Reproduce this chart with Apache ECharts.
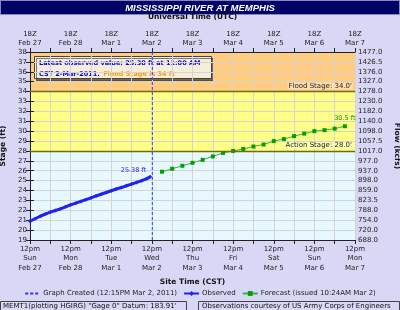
<!DOCTYPE html>
<html>
<head>
<meta charset="utf-8">
<script src="https://cdn.jsdelivr.net/npm/echarts@6/dist/echarts.min.js"></script>
<style>
  html, body { margin: 0; padding: 0; background: #D8D8F6; }
  #chart { width: 400px; height: 310px; }
</style>
</head>
<body>
<div id="chart"></div>
<script>
// x values are hours since 12pm CST Sun Feb 27 2011
const obsHours = [0, 3, 6, 9, 12, 15, 18, 21, 24, 27, 30, 33, 36, 39, 42, 45, 48, 51, 54, 57, 60, 63, 66, 69, 71];
const obsStage = [20.90, 21.15, 21.40, 21.62, 21.82, 21.98, 22.15, 22.35, 22.55, 22.72, 22.90, 23.08, 23.25,
                  23.45, 23.62, 23.80, 23.98, 24.15, 24.30, 24.48, 24.65, 24.82, 25.00, 25.20, 25.38];
const fcstHours = [78, 84, 90, 96, 102, 108, 114, 120, 126, 132, 138, 144, 150, 156, 162, 168, 174, 180, 186];
const fcstStage = [25.9, 26.2, 26.5, 26.8, 27.1, 27.45, 27.8, 28.0, 28.2, 28.45, 28.65, 29.0, 29.2,
                   29.5, 29.75, 30.0, 30.1, 30.25, 30.5];
const dayNames = ['Sun', 'Mon', 'Tue', 'Wed', 'Thu', 'Fri', 'Sat', 'Sun', 'Mon'];
const dayDates = ['Feb 27', 'Feb 28', 'Mar 1', 'Mar 2', 'Mar 3', 'Mar 4', 'Mar 5', 'Mar 6', 'Mar 7'];
// flow (kcfs) for each stage foot from 19 to 38
const flowLabels = ['688.0', '720.0', '754.0', '788.0', '823.5', '859.0', '898.0', '937.0', '977.0', '1017.0',
                    '1057.5', '1098.0', '1140.0', '1182.0', '1230.0', '1278.0', '1327.0', '1376.0', '1426.5', '1477.0'];
const stageMin = 19, stageMax = 38;
const actionStage = 28, floodStage = 34;
const createdHour = 72.25;

const font = 'DejaVu Sans';
const chart = echarts.init(document.getElementById('chart'));

const obsData = obsHours.map((h, i) => [h, obsStage[i]]);
obsData[obsData.length - 1] = {
  value: obsData[obsData.length - 1],
  label: { show: true, position: 'left', offset: [3, -7], formatter: obsStage[obsStage.length - 1] + ' ft',
           color: '#2222EE', fontSize: 6.5, fontFamily: font }
};
const fcstData = fcstHours.map((h, i) => [h, fcstStage[i]]);
fcstData[fcstData.length - 1] = {
  value: fcstData[fcstData.length - 1],
  label: { show: true, position: 'top', distance: 2, formatter: fcstStage[fcstStage.length - 1] + ' ft',
           color: '#009900', fontSize: 6.5, fontFamily: font }
};

const xCommon = {
  type: 'value', min: 0, max: 192, interval: 12,
  axisLine: { lineStyle: { color: '#222' } },
  axisTick: { length: 4, lineStyle: { color: '#222' } },
  axisLabel: { fontSize: 7, fontFamily: font, color: '#222', lineHeight: 9.5, margin: 4 },
  nameLocation: 'middle',
  nameTextStyle: { fontSize: 7.5, fontWeight: 'bold', fontFamily: font, color: '#111' }
};
const yCommon = {
  type: 'value', min: stageMin, max: stageMax, interval: 1,
  axisLine: { show: true, lineStyle: { color: '#222' } },
  axisTick: { show: true, length: 4, lineStyle: { color: '#222' } },
  axisLabel: { fontSize: 7, fontFamily: font, color: '#222', margin: 3 },
  nameLocation: 'middle',
  nameTextStyle: { fontSize: 7.5, fontWeight: 'bold', fontFamily: font, color: '#111' }
};

chart.setOption({
  animation: false,
  backgroundColor: '#D8D8F6',
  grid: { left: 30, right: 45, top: 52, bottom: 70, outerBoundsMode: 'none' },
  xAxis: [
    Object.assign({}, xCommon, {
      position: 'bottom', name: 'Site Time (CST)', nameGap: 38,
      splitLine: { show: true, lineStyle: { color: '#D4D4D4' } },
      axisLabel: Object.assign({}, xCommon.axisLabel, {
        formatter: v => v % 24 ? '' : '12pm\n' + dayNames[v / 24] + '\n' + dayDates[v / 24]
      })
    }),
    Object.assign({}, xCommon, {
      position: 'top', name: 'Universal Time (UTC)', nameGap: 31,
      splitLine: { show: false },
      axisLabel: Object.assign({}, xCommon.axisLabel, {
        formatter: v => v % 24 ? '' : '18Z\n' + dayDates[v / 24]
      })
    })
  ],
  yAxis: [
    Object.assign({}, yCommon, {
      position: 'left', name: 'Stage (ft)', nameGap: 19,
      splitLine: { show: true, lineStyle: { color: '#D4D4D4' } }
    }),
    Object.assign({}, yCommon, {
      position: 'right', name: 'Flow (kcfs)', nameGap: 37, nameRotate: -90,
      splitLine: { show: false },
      axisLabel: Object.assign({}, yCommon.axisLabel, { formatter: v => flowLabels[v - stageMin] })
    })
  ],
  legend: {
    top: 285, left: 'center', itemWidth: 15, itemHeight: 6, itemGap: 6,
    textStyle: { fontSize: 7, fontFamily: font, color: '#222', padding: [0, 0, 0, -2] },
    data: [
      { name: 'Graph Created (12:15PM Mar 2, 2011)', itemStyle: { opacity: 0 } },
      'Observed',
      'Forecast (issued 10:24AM Mar 2)'
    ]
  },
  series: [
    {
      name: 'bands', type: 'line', data: [], silent: true,
      markArea: {
        z: -1, silent: true,
        data: [
          [{ yAxis: stageMin, itemStyle: { color: '#E8F8FF' } }, { yAxis: actionStage }],
          [{ yAxis: actionStage, itemStyle: { color: '#FFFF88' } }, { yAxis: floodStage }],
          [{ yAxis: floodStage, itemStyle: { color: '#FFCC80' } }, { yAxis: stageMax }]
        ]
      },
      markLine: {
        silent: true, symbol: 'none',
        lineStyle: { color: '#6E6E10', width: 1.3, type: 'solid' },
        label: { position: 'insideEndTop', fontSize: 7, fontFamily: font, color: '#222', distance: 2,
                 backgroundColor: 'rgba(255,255,255,0.35)', padding: [0, 1] },
        data: [
          { yAxis: floodStage, label: { formatter: "Flood Stage: 34.0'" } },
          { yAxis: actionStage, label: { formatter: "Action Stage: 28.0'" } }
        ]
      }
    },
    {
      name: 'Graph Created (12:15PM Mar 2, 2011)', type: 'line', symbol: 'none',
      data: [[createdHour, stageMin], [createdHour, stageMax]],
      lineStyle: { color: '#3333FF', width: 1, type: [3, 2] }, itemStyle: { color: '#3333FF' }
    },
    {
      name: 'Observed', type: 'line', data: obsData,
      symbol: 'diamond', symbolSize: 4,
      lineStyle: { color: '#2222EE', width: 3 }, itemStyle: { color: '#2222EE' }
    },
    {
      name: 'Forecast (issued 10:24AM Mar 2)', type: 'line', data: fcstData,
      symbol: 'rect', symbolSize: 4,
      lineStyle: { color: '#44AA44', width: 1 }, itemStyle: { color: '#00A000' }
    }
  ],
  graphic: [
    { type: 'rect', shape: { x: 0.5, y: 0.5, width: 399, height: 14 },
      style: { fill: '#000066', stroke: '#8888BB', lineWidth: 1 } },
    { type: 'text', x: 200, y: 8,
      style: { text: 'MISSISSIPPI RIVER AT MEMPHIS', fill: '#fff', align: 'center', verticalAlign: 'middle',
               font: 'italic bold 9.5px "Liberation Sans Narrow", "Liberation Sans", sans-serif' } },
    { type: 'rect', shape: { x: 34.5, y: 56.5, width: 177, height: 22 },
      style: { fill: '#F6EEDA', stroke: '#444', lineWidth: 1, shadowColor: 'rgba(0,0,0,0.5)', shadowOffsetX: 2, shadowOffsetY: 2 } },
    { type: 'text', x: 39, y: 59,
      style: {
        text: '{b|Latest observed value: 25.38 ft at 11:00 AM}\n{b|CST 2-Mar-2011.} {o|Flood Stage is 34 ft}',
        rich: {
          b: { fill: '#0000DD', fontSize: 6.5, fontWeight: 'bold', fontFamily: font, lineHeight: 9 },
          o: { fill: '#FF9900', fontSize: 6.5, fontWeight: 'bold', fontFamily: font, lineHeight: 9 }
        }
      } },
    { type: 'rect', shape: { x: 0.5, y: 301.5, width: 186, height: 11 },
      style: { fill: 'none', stroke: '#444', lineWidth: 1 } },
    { type: 'text', x: 3, y: 303,
      style: { text: 'MEMT1(plotting HGIRG) "Gage 0" Datum: 183.91\'', fill: '#111', fontSize: 7, fontFamily: font } },
    { type: 'rect', shape: { x: 198.5, y: 301.5, width: 201, height: 11 },
      style: { fill: 'none', stroke: '#444', lineWidth: 1 } },
    { type: 'text', x: 202, y: 303,
      style: { text: 'Observations courtesy of US Army Corps of Engineers', fill: '#111', fontSize: 7, fontFamily: font } }
  ]
});
</script>
</body>
</html>
